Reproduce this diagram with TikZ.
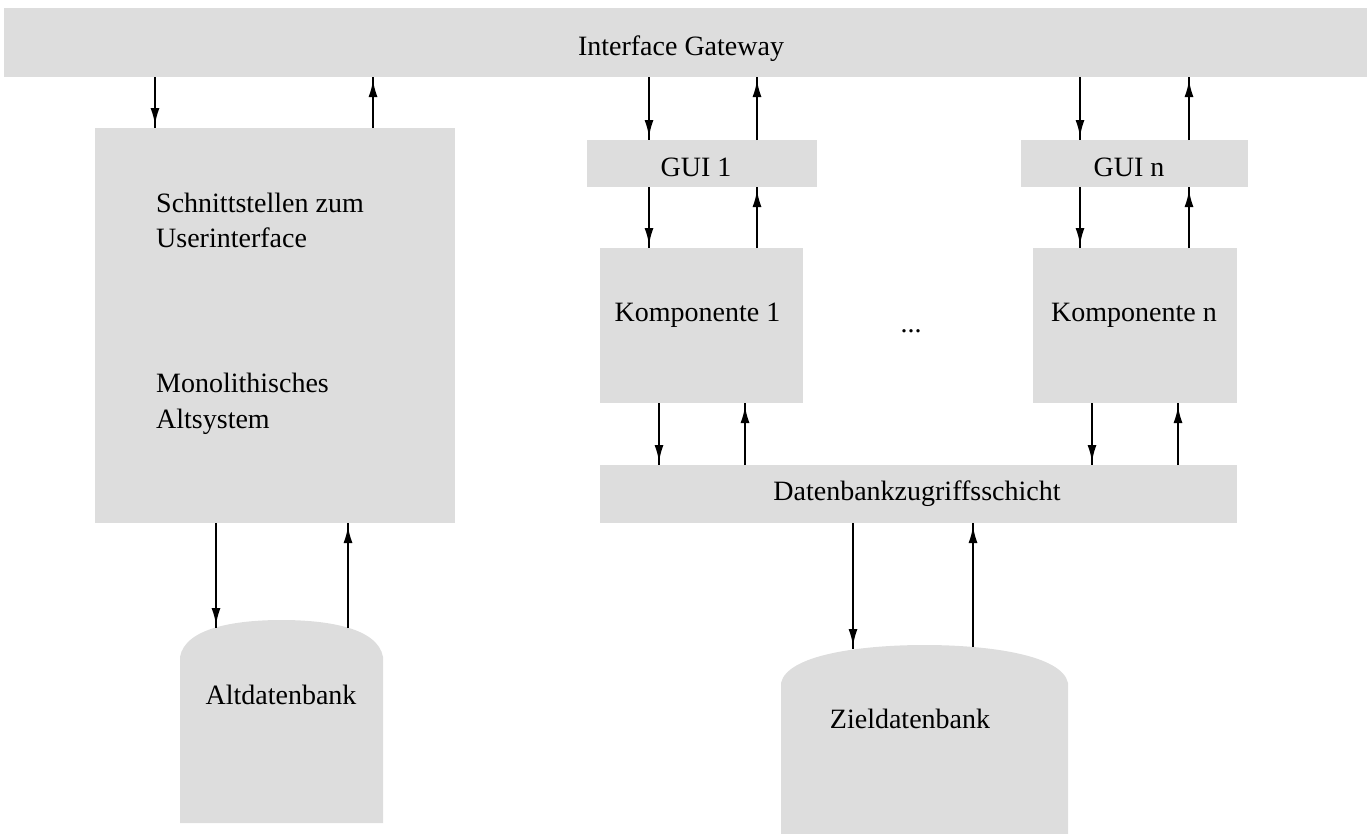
\documentclass[tikz,border=0pt]{standalone}
\usepackage{fontspec}
\setmainfont{Liberation Serif}
\usetikzlibrary{arrows.meta,decorations.markings}
\definecolor{boxgray}{RGB}{221,221,221}
\begin{document}
\begin{tikzpicture}[x=1pt,y=-1pt,
  box/.style={fill=boxgray,draw=none,inner sep=0pt,outer sep=0pt},
  lbl/.style={inner sep=0pt,font=\fontsize{28}{35}\selectfont},
  flow/.style={line width=2pt,postaction={decorate},
    decoration={markings,mark=at position -3pt with {\arrow{Latex[length=17pt,width=9pt]}}}}]
\useasboundingbox (0,0) rectangle (1367,833);

% layers and components
\node[box,minimum width=1363pt,minimum height=69pt] (gw) at (685.5,42.5) {};
\node[box,minimum width=360pt,minimum height=395pt] (alt) at (275,325.5) {};
\node[box,minimum width=230pt,minimum height=47pt] (gui1) at (702,163.5) {};
\node[box,minimum width=227pt,minimum height=47pt] (guin) at (1134.5,163.5) {};
\node[box,minimum width=203pt,minimum height=155pt] (k1) at (701.5,325.5) {};
\node[box,minimum width=204pt,minimum height=155pt] (kn) at (1135,325.5) {};
\node[box,minimum width=637pt,minimum height=58pt] (dal) at (918.5,494) {};

% databases (domed top)
\fill[boxgray] (180,823) -- (180,657) .. controls (185,628) and (235,620) .. (281.5,620)
  .. controls (328,620) and (378,628) .. (383,657) -- (383,823) -- cycle;
\fill[boxgray] (781,834) -- (781,683) .. controls (787,655) and (860,645) .. (924.5,645)
  .. controls (989,645) and (1062,655) .. (1068,683) -- (1068,834) -- cycle;
\coordinate (altdbA) at (216,628);
\coordinate (altdbB) at (348,628);
\coordinate (zdbA) at (853,649);
\coordinate (zdbB) at (973,647);

% labels
\node[lbl,anchor=base] (tgw) at (681,55) {Interface Gateway};
\node[lbl,anchor=base west] (talt1) at (156,212) {Schnittstellen zum};
\node[lbl,anchor=base west] (talt2) at (156,247) {Userinterface};
\node[lbl,anchor=base west] (talt3) at (156,392) {Monolithisches};
\node[lbl,anchor=base west] (talt4) at (156,428) {Altsystem};
\node[lbl,anchor=base] (tgui1) at (696,176) {GUI 1};
\node[lbl,anchor=base] (tguin) at (1129,176) {GUI n};
\node[lbl,anchor=base] (tk1) at (697.5,321) {Komponente 1};
\node[lbl,anchor=base] (tkn) at (1134,321) {Komponente n};
\node[lbl,anchor=base] (dots) at (911,332) {...};
\node[lbl,anchor=base] (tdal) at (917,500) {Datenbankzugriffsschicht};
\node[lbl,anchor=base] (taltdb) at (281,704) {Altdatenbank};
\node[lbl,anchor=base] (tzdb) at (910,728) {Zieldatenbank};

% connectors
\draw[flow] (gw.south -| 155,0) -- (alt.north -| 155,0);
\draw[flow] (alt.north -| 373,0) -- (gw.south -| 373,0);
\draw[flow] (gw.south -| 649,0) -- (gui1.north -| 649,0);
\draw[flow] (gui1.north -| 757,0) -- (gw.south -| 757,0);
\draw[flow] (gw.south -| 1080,0) -- (guin.north -| 1080,0);
\draw[flow] (guin.north -| 1189,0) -- (gw.south -| 1189,0);
\draw[flow] (gui1.south -| 649,0) -- (k1.north -| 649,0);
\draw[flow] (k1.north -| 757,0) -- (gui1.south -| 757,0);
\draw[flow] (guin.south -| 1080,0) -- (kn.north -| 1080,0);
\draw[flow] (kn.north -| 1189,0) -- (guin.south -| 1189,0);
\draw[flow] (k1.south -| 659,0) -- (dal.north -| 659,0);
\draw[flow] (dal.north -| 745,0) -- (k1.south -| 745,0);
\draw[flow] (kn.south -| 1092,0) -- (dal.north -| 1092,0);
\draw[flow] (dal.north -| 1178,0) -- (kn.south -| 1178,0);
\draw[flow] (alt.south -| altdbA) -- (altdbA);
\draw[flow] (altdbB) -- (alt.south -| altdbB);
\draw[flow] (dal.south -| zdbA) -- (zdbA);
\draw[flow] (zdbB) -- (dal.south -| zdbB);
\end{tikzpicture}
\end{document}
